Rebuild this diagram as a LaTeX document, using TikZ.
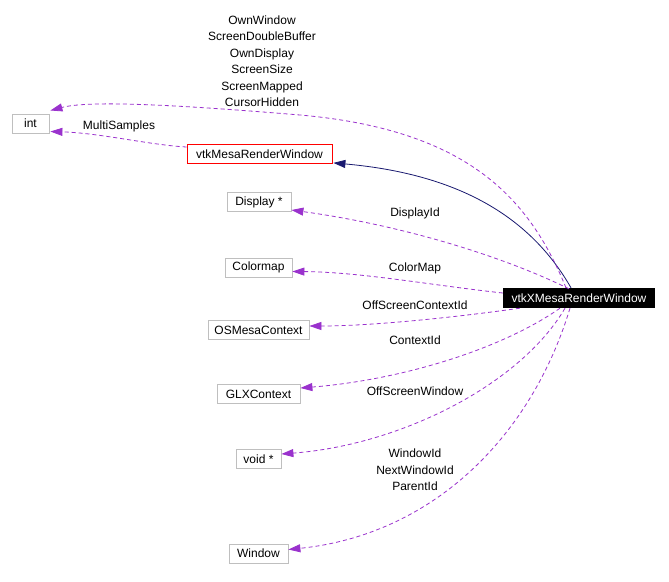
\documentclass[tikz,border=0pt]{standalone}
\usepackage{fontspec}
\setmainfont{Liberation Sans}
\usetikzlibrary{arrows.meta,calc}
\definecolor{member}{HTML}{9A32CD}
\definecolor{inherit}{HTML}{191970}
\definecolor{boxline}{HTML}{BFBFBF}
\definecolor{boxred}{HTML}{FF0000}

\begin{document}
\begin{tikzpicture}[
  x=1pt,y=-1pt,font=\fontsize{12}{13}\selectfont,
  cls/.style={draw=boxline,line width=.8pt,fill=white,minimum height=19,inner sep=2pt},
  focus/.style={fill=black,text=white,minimum height=20,minimum width=152,inner sep=2pt},
  lbl/.style={inner sep=0pt,align=center,font=\fontsize{12}{16.5}\selectfont},
  uses/.style={draw=member,dashed,dash pattern=on 4pt off 3pt,line width=.8pt,
    -{Triangle[length=12pt,width=8pt,fill=member]}},
  base/.style={draw=inherit,line width=.8pt,-{Triangle[length=12pt,width=8pt,fill=inherit]}}
]
\useasboundingbox (0,0) rectangle (669,581);
\fill[white] (0,0) rectangle (669,581);

% classes
\node[focus] (vx) at (579,298) {vtkXMesaRenderWindow};
\node[cls,draw=boxred,minimum width=145] (mr) at (259.5,154) {vtkMesaRenderWindow};
\node[cls,minimum width=37] (int) at (30.5,123.5) {int};
\node[cls,minimum width=64] (disp) at (259,202) {Display *};
\node[cls,minimum width=67] (cmap) at (258.5,267.5) {Colormap};
\node[cls,minimum width=101] (osm) at (258.5,330) {OSMesaContext};
\node[cls,minimum width=83] (glx) at (258.5,394) {GLXContext};
\node[cls,minimum width=45] (vptr) at (258.5,459) {void *};
\node[cls,minimum width=59] (win) at (258.5,553.5) {Window};

% inheritance
\draw[base] ($(vx.north)+(-8,0)$) .. controls (535,225) and (470,175) .. ($(mr.south east)+(1,-1)$);

% members
\draw[uses] ($(vx.north)+(-13,0)$) .. controls (530,200) and (470,130) .. (300,115)
  .. controls (180,105) and (90,100) .. ($(int.east)+(1,-13)$);
\draw[uses] ($(mr.west)+(0,-7)$) .. controls (150,145) and (100,133) .. ($(int.east)+(1,8)$);
\draw[uses] ($(vx.north)+(-10,1)$) .. controls (500,255) and (400,225) .. ($(disp.east)+(0,8)$);
\draw[uses] ($(vx.west)+(0,-5)$) .. controls (430,285) and (360,272) .. ($(cmap.east)+(0,4)$);
\draw[uses] ($(vx.south west)+(17,0)$) .. controls (450,318) and (370,326) .. ($(osm.east)+(0,-4)$);
\draw[uses] ($(vx.south)+(-19,0)$) .. controls (500,350) and (400,380) .. ($(glx.east)+(0,-6)$);
\draw[uses] ($(vx.south)+(-14,0)$) .. controls (520,385) and (400,445) .. ($(vptr.east)+(0,-5)$);
\draw[uses] ($(vx.south)+(-9,0)$) .. controls (530,440) and (430,535) .. ($(win.east)+(0,-4)$);

% edge labels
\node[lbl] (lint) at (262,61) {OwnWindow\\ScreenDoubleBuffer\\OwnDisplay\\ScreenSize\\ScreenMapped\\CursorHidden};
\node[lbl] (lms) at (119,126) {MultiSamples};
\node[lbl] (ldisp) at (415,213) {DisplayId};
\node[lbl] (lcmap) at (415,268) {ColorMap};
\node[lbl] (losm) at (415,305) {OffScreenContextId};
\node[lbl] (lglx) at (415,340) {ContextId};
\node[lbl] (lvptr) at (415,391) {OffScreenWindow};
\node[lbl] (lwin) at (415,470) {WindowId\\NextWindowId\\ParentId};
\end{tikzpicture}
\end{document}
